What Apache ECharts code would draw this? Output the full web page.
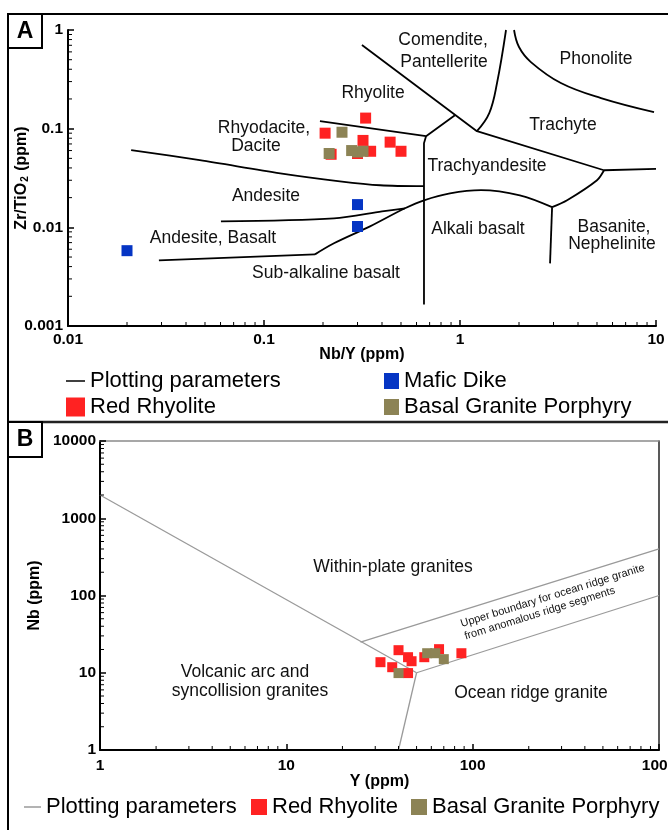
<!DOCTYPE html>
<html>
<head>
<meta charset="utf-8">
<title>Discrimination diagrams</title>
<script src="https://cdn.jsdelivr.net/npm/echarts@6/dist/echarts.min.js"></script>
<style>
  html, body { margin: 0; padding: 0; background: #fff; }
  #chart { width: 668px; height: 830px; }
</style>
</head>
<body>
<div id="chart"></div>
<script>
// ---------- Panel A: Zr/TiO2 vs Nb/Y ----------
const rangeNbY = [0.01, 10];
const rangeZrTi = [0.001, 1];

const redRhyoliteA = [[0.33, 0.128], [0.205, 0.090], [0.32, 0.076], [0.44, 0.073], [0.50, 0.059], [0.35, 0.059], [0.30, 0.056], [0.22, 0.055]];
const basalGraniteA = [[0.25, 0.092], [0.215, 0.056], [0.28, 0.060], [0.30, 0.058], [0.32, 0.059]];
const maficDikeA = [[0.02, 0.0058], [0.30, 0.017], [0.30, 0.0102]];

// field boundaries
const bRhyodaciteAndesite = [[0.021, 0.0605], [0.047, 0.048], [0.121, 0.0353], [0.244, 0.0293], [0.391, 0.0267], [0.655, 0.0261]];
const bRhyoliteRhyodacite = [[0.193, 0.119], [0.671, 0.0839], [0.942, 0.137]];
const bRhyoliteComendite = [[0.316, 0.704], [1.22, 0.0943], [5.43, 0.0379], [10, 0.0391]];
const bTrachyandesiteWest = [[0.671, 0.0839], [0.655, 0.0713], [0.655, 0.00165]];
const bComenditeTrachyte = [[1.22, 0.0943], [1.41, 0.1436], [1.545, 0.290], [1.717, 1.0]];
const bPhonoliteTrachyte = [[1.887, 1.0], [2.0, 0.672], [2.30, 0.473], [3.27, 0.290], [5.24, 0.204], [9.77, 0.147]];
const bAndesiteBasaltLow = [[0.0291, 0.00462], [0.182, 0.00532]];
const bSubalkalineAlkali = [[0.182, 0.00532], [0.2275, 0.00689], [0.3475, 0.01023], [0.524, 0.0156], [0.655, 0.0188], [0.889, 0.0221], [1.28, 0.0238], [2.02, 0.0211], [2.95, 0.016]];
const bTrachyandesiteBasanite = [[2.95, 0.016], [3.52, 0.0188], [5.0, 0.030], [5.43, 0.0379]];
const bBasaniteAlkali = [[2.95, 0.016], [2.88, 0.00431]];
const bAndesiteBasalt = [[0.0603, 0.0115], [0.2275, 0.01234], [0.40, 0.0145], [0.524, 0.0156]];

// ---------- Panel B: Nb vs Y ----------
const rangeY = [1, 1000];
const rangeNb = [1, 10000];

const redRhyoliteB = [[32, 13.7], [37, 11.8], [40, 19.6], [45, 15.9], [47, 14.1], [45, 9.9], [55, 15.9], [66, 20.2], [87, 17.9]];
const basalGraniteB = [[40, 9.9], [57, 17.9], [63, 17.9], [70, 15.0]];

const bVagWpg = [[1, 2000], [50, 10]];
const bVagOrg = [[50, 10], [40, 1]];
const bWpgOrg = [[50, 10], [1000, 100]];
const bAnomalousOrg = [[25, 25], [1000, 400]];

// ---------- styling ----------
const FONT = '"Liberation Sans", Arial, Helvetica, sans-serif';
const RED = '#ff2222';
const OLIVE = '#8c8355';
const BLUE = '#0535c4';
const GRAY = '#9a9a9a';

const labelsA = [
  ['Comendite,', 443, 40], ['Pantellerite', 444, 62], ['Phonolite', 596, 59],
  ['Rhyolite', 373, 93], ['Trachyte', 563, 125], ['Rhyodacite,', 264, 128],
  ['Dacite', 256, 146], ['Trachyandesite', 487, 166], ['Andesite', 266, 196],
  ['Andesite, Basalt', 213, 238], ['Alkali basalt', 478, 229],
  ['Sub-alkaline basalt', 326, 273], ['Basanite,', 614, 227], ['Nephelinite', 612, 244]
];
const labelsB = [
  ['Within-plate granites', 393, 567], ['Volcanic arc and', 245, 672],
  ['syncollision granites', 250, 691], ['Ocean ridge granite', 531, 693]
];

function decadeMinors(lo, hi) {
  const out = [];
  for (let e = Math.round(Math.log10(lo)); e < Math.round(Math.log10(hi)); e++) {
    for (let k = 2; k <= 9; k++) out.push(+(k * Math.pow(10, e)).toPrecision(3));
  }
  return out;
}

function minorTickData(xr, yr) {
  return decadeMinors(xr[0], xr[1]).map(v => [v, yr[0], 0])
    .concat(decadeMinors(yr[0], yr[1]).map(v => [xr[0], v, 1]));
}

function renderMinorTick(params, api) {
  const p = api.coord([api.value(0), api.value(1)]);
  const alongY = api.value(2) === 1;
  return {
    type: 'line',
    shape: alongY ? { x1: p[0], y1: p[1], x2: p[0] + 4, y2: p[1] }
                  : { x1: p[0], y1: p[1], x2: p[0], y2: p[1] - 4 },
    style: { stroke: '#000', lineWidth: 1 }
  };
}

const tickFormatter = v => String(+(+v).toPrecision(4));

function logAxis(gridIndex, range, extra) {
  return Object.assign({
    gridIndex: gridIndex,
    type: 'log',
    logBase: 10,
    min: range[0],
    max: range[1],
    splitNumber: Math.round(Math.log10(range[1] / range[0])),
    nameLocation: 'middle',
    nameMoveOverlap: false,
    nameTextStyle: { fontFamily: FONT, fontWeight: 'bold', fontSize: 16, color: '#000' },
    axisLine: { onZero: false, lineStyle: { color: '#000', width: 2 } },
    axisTick: { inside: true, length: 6, lineStyle: { color: '#000', width: 1.5 } },
    axisLabel: { fontFamily: FONT, fontWeight: 'bold', fontSize: 15.5, color: '#000', formatter: tickFormatter },
    splitLine: { show: false },
    minorTick: { show: false }
  }, extra);
}

function frameAxis(gridIndex, range, position, color) {
  return {
    gridIndex: gridIndex, type: 'log', logBase: 10, min: range[0], max: range[1], position: position,
    axisLine: { onZero: false, lineStyle: { color: color, width: 1.5 } },
    axisTick: { show: false }, axisLabel: { show: false }, splitLine: { show: false }
  };
}

function boundary(data, xi, color, width, smooth) {
  return {
    name: 'Plotting parameters', type: 'line', xAxisIndex: xi, yAxisIndex: xi,
    data: data, symbol: 'none', smooth: smooth || false, silent: true, z: 3,
    itemStyle: { color: color }, lineStyle: { color: color, width: width }
  };
}

function points(name, data, xi, color, size) {
  return {
    name: name, type: 'scatter', xAxisIndex: xi, yAxisIndex: xi, data: data,
    symbol: 'rect', symbolSize: size, z: 5, silent: true,
    itemStyle: { color: color, borderWidth: 0, opacity: 1 }
  };
}

function legendOne(name, left, top, w, h, color) {
  return {
    left: left, top: top, orient: 'horizontal', selectedMode: false,
    itemWidth: w, itemHeight: h, padding: 0,
    itemStyle: { borderWidth: 0 },
    textStyle: { fontFamily: FONT, fontSize: 22, color: '#000' },
    data: [{ name: name, icon: 'rect', itemStyle: { color: color, borderWidth: 0 } }]
  };
}

function textLabel(item, size) {
  return {
    type: 'text', x: item[1], y: item[2], silent: true,
    style: { text: item[0], fontFamily: FONT, fontSize: size, fill: '#111', align: 'center', verticalAlign: 'middle' }
  };
}

const chart = echarts.init(document.getElementById('chart'), null, { renderer: 'canvas' });

const option = {
  animation: false,
  backgroundColor: '#fff',
  grid: [
    { left: 68, top: 30, width: 588, height: 296, containLabel: false, outerBoundsMode: 'none' },
    { left: 100, top: 441, width: 559, height: 309, containLabel: false, outerBoundsMode: 'none' }
  ],
  xAxis: [
    logAxis(0, rangeNbY, { name: 'Nb/Y (ppm)', nameGap: 21, axisLabel: { fontFamily: FONT, fontWeight: 'bold', fontSize: 15.5, color: '#000', margin: 6, formatter: tickFormatter } }),
    logAxis(1, rangeY, { name: 'Y (ppm)', nameGap: 24, axisLabel: { fontFamily: FONT, fontWeight: 'bold', fontSize: 15.5, color: '#000', margin: 8, formatter: tickFormatter } }),
    frameAxis(1, rangeY, 'top', '#8a8a8a')
  ],
  yAxis: [
    logAxis(0, rangeZrTi, {
      name: 'Zr/TiO{sub|2} (ppm)', nameGap: 38, nameRotate: 90,
      nameTextStyle: { fontFamily: FONT, fontWeight: 'bold', fontSize: 16, color: '#000',
        rich: { sub: { fontFamily: FONT, fontWeight: 'bold', fontSize: 10, color: '#000', verticalAlign: 'bottom', padding: [0, 1, 0, 1] } } },
      axisLabel: { fontFamily: FONT, fontWeight: 'bold', fontSize: 15.5, color: '#000', margin: 5, formatter: tickFormatter }
    }),
    logAxis(1, rangeNb, {
      name: 'Nb (ppm)', nameGap: 57, nameRotate: 90,
      axisLabel: { fontFamily: FONT, fontWeight: 'bold', fontSize: 15.5, color: '#000', margin: 4, formatter: tickFormatter }
    }),
    frameAxis(1, rangeNb, 'right', '#222')
  ],
  legend: [
    legendOne('Plotting parameters', 66, 370, 19, 1.5, '#000'),
    legendOne('Red Rhyolite', 66, 396, 19, 19, RED),
    legendOne('Mafic Dike', 384, 370, 15, 16, BLUE),
    legendOne('Basal Granite Porphyry', 384, 396, 15, 16, OLIVE),
    legendOne('Plotting parameters', 24, 796, 17, 1.5, GRAY),
    legendOne('Red Rhyolite', 251, 796, 16, 16, RED),
    legendOne('Basal Granite Porphyry', 411, 796, 16, 16, OLIVE)
  ],
  series: [
    boundary(bRhyodaciteAndesite, 0, '#000', 1.8, 0.3),
    boundary(bRhyoliteRhyodacite, 0, '#000', 1.8),
    boundary(bRhyoliteComendite, 0, '#000', 1.8),
    boundary(bTrachyandesiteWest, 0, '#000', 1.8),
    boundary(bComenditeTrachyte, 0, '#000', 1.8, 0.4),
    boundary(bPhonoliteTrachyte, 0, '#000', 1.8, 0.4),
    boundary(bAndesiteBasaltLow, 0, '#000', 1.8),
    boundary(bSubalkalineAlkali, 0, '#000', 1.8, 0.35),
    boundary(bTrachyandesiteBasanite, 0, '#000', 1.8, 0.3),
    boundary(bBasaniteAlkali, 0, '#000', 1.8),
    boundary(bAndesiteBasalt, 0, '#000', 1.8, 0.3),
    points('Mafic Dike', maficDikeA, 0, BLUE, 11),
    points('Red Rhyolite', redRhyoliteA, 0, RED, 11),
    points('Basal Granite Porphyry', basalGraniteA, 0, OLIVE, 11),

    boundary(bVagWpg, 1, GRAY, 1.3),
    boundary(bVagOrg, 1, GRAY, 1.3),
    boundary(bWpgOrg, 1, GRAY, 1.3),
    boundary(bAnomalousOrg, 1, GRAY, 1.3),
    points('Red Rhyolite', redRhyoliteB, 1, RED, 10),
    points('Basal Granite Porphyry', basalGraniteB, 1, OLIVE, 10),

    { type: 'custom', xAxisIndex: 0, yAxisIndex: 0, data: minorTickData(rangeNbY, rangeZrTi),
      renderItem: renderMinorTick, silent: true, clip: false, z: 4, encode: { x: 0, y: 1 } },
    { type: 'custom', xAxisIndex: 1, yAxisIndex: 1, data: minorTickData(rangeY, rangeNb),
      renderItem: renderMinorTick, silent: true, clip: false, z: 4, encode: { x: 0, y: 1 } }
  ],
  graphic: [
    { type: 'line', silent: true, shape: { x1: 8, y1: 14, x2: 668, y2: 14 }, style: { stroke: '#000', lineWidth: 2 } },
    { type: 'line', silent: true, shape: { x1: 8, y1: 14, x2: 8, y2: 830 }, style: { stroke: '#000', lineWidth: 2 } },
    { type: 'line', silent: true, shape: { x1: 8, y1: 422, x2: 668, y2: 422 }, style: { stroke: '#222', lineWidth: 2.5 } },
    { type: 'rect', silent: true, shape: { x: 8, y: 14, width: 34, height: 34 }, style: { fill: '#fff', stroke: '#000', lineWidth: 2 } },
    { type: 'rect', silent: true, shape: { x: 8, y: 422, width: 34, height: 35 }, style: { fill: '#fff', stroke: '#000', lineWidth: 2 } },
    { type: 'text', silent: true, x: 25, y: 32, style: { text: 'A', fontFamily: FONT, fontWeight: 'bold', fontSize: 23, fill: '#000', align: 'center', verticalAlign: 'middle' } },
    { type: 'text', silent: true, x: 25, y: 440, style: { text: 'B', fontFamily: FONT, fontWeight: 'bold', fontSize: 23, fill: '#000', align: 'center', verticalAlign: 'middle' } },
    { type: 'text', silent: true, x: 459, y: 618, rotation: 0.30,
      style: { text: 'Upper boundary for ocean ridge granite\nfrom anomalous ridge segments', fontFamily: FONT, fontSize: 11, lineHeight: 13, fill: '#111', align: 'left', verticalAlign: 'top' } }
  ].concat(labelsA.map(l => textLabel(l, 17.5)), labelsB.map(l => textLabel(l, 17.5)))
};

chart.setOption(option);
</script>
</body>
</html>
